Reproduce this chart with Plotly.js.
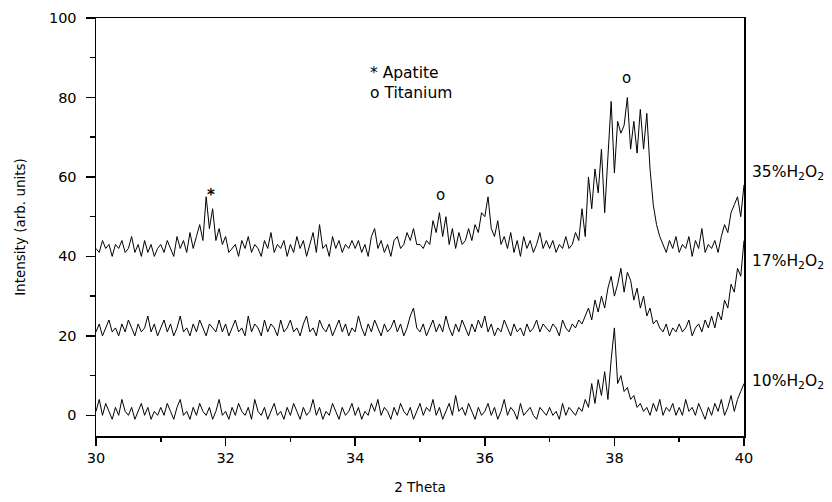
<!DOCTYPE html>
<html>
<head>
<meta charset="utf-8">
<script src="https://cdn.plot.ly/plotly-3.0.1.min.js"></script>
<style>html,body{margin:0;padding:0;background:#fff;}#chart{width:832px;height:502px;}</style>
</head>
<body>
<div id="chart"></div>
<script>
// 2-theta grid: start and step (degrees)
const thetaStart = 30;
const thetaStep = 0.05;

// 35% H2O2 pattern (offset baseline ~42)
const s35 = [
 42,41,44,42,43,40,43,42,44,41,42,45,41,43,40,44,41,43,40,42,
 43,41,44,42,40,45,42,44,41,46,42,45,48,44,55,47,52,44,47,43,
 45,41,42,43,40,44,42,45,41,43,42,40,44,42,46,41,43,42,44,40,
 43,41,45,42,44,40,43,46,41,48,42,43,40,45,42,44,41,43,42,44,
 42,44,41,43,40,45,47,42,44,41,43,40,44,45,42,43,46,44,47,43,
 43,42,44,43,49,46,51,45,50,43,47,42,46,43,44,47,44,48,46,51,
 50,55,47,45,49,43,45,42,46,41,44,40,45,42,44,41,43,46,42,44,
 42,44,41,43,42,45,42,43,46,44,52,45,60,52,62,56,67,51,65,79,
 61,74,71,73,80,67,74,66,77,67,76,62,53,48,45,43,41,44,42,45,
 41,43,42,45,40,44,42,47,41,43,42,44,41,45,48,46,51,53,55,50,
 58
];

// 17% H2O2 pattern (offset baseline ~22)
const s17 = [
 21,23,20,22,24,21,22,20,23,21,24,22,20,23,21,22,25,21,23,20,
 22,24,21,23,20,22,25,21,22,20,23,21,24,22,20,23,22,21,24,21,
 23,20,22,24,21,22,20,25,21,23,22,20,24,21,23,22,20,24,21,22,
 24,21,22,20,23,25,21,22,20,24,22,21,23,20,22,24,21,23,20,22,
 21,25,22,20,23,21,24,22,20,23,21,22,24,21,23,20,22,25,27,22,
 21,23,20,22,24,21,23,21,25,22,20,23,21,24,22,20,23,21,24,22,
 25,21,23,20,22,21,24,22,20,23,21,22,20,23,21,22,24,21,23,22,
 21,23,22,20,24,22,21,23,22,24,23,25,27,24,29,26,30,27,32,35,
 30,33,37,31,36,34,29,32,27,30,25,27,23,24,22,21,23,20,22,21,
 23,21,22,24,20,22,23,21,24,22,25,22,26,24,29,27,33,31,37,35,
 44
];

// 10% H2O2 pattern (baseline ~1)
const s10 = [
 1,4,0,3,1,-1,2,0,4,1,0,2,-1,1,3,0,2,-1,1,0,
 2,0,3,1,-1,2,4,0,1,-1,2,0,3,1,0,2,-1,1,4,0,
 1,-1,2,0,3,1,0,2,-1,4,1,0,2,-1,1,3,0,1,-1,2,
 0,3,1,-1,2,0,1,4,0,2,-1,1,0,3,1,-1,2,0,1,3,
 0,2,-1,1,0,3,1,4,0,2,1,-1,2,0,3,1,0,2,-1,1,
 3,0,2,1,4,0,2,-1,1,3,0,5,1,2,0,3,1,-1,2,0,
 1,3,0,2,-1,1,4,0,2,1,-1,3,0,1,2,0,-1,2,1,0,
 2,0,1,-1,3,0,2,1,0,2,1,4,2,8,3,9,5,11,4,14,
 22,8,10,6,7,4,5,2,3,1,2,0,3,1,4,0,2,1,3,0,
 2,0,4,1,2,0,3,1,-1,2,0,3,1,4,0,2,5,1,4,6,
 8
];

const seriesNames = ['35%H<sub>2</sub>O<sub>2</sub>', '17%H<sub>2</sub>O<sub>2</sub>', '10%H<sub>2</sub>O<sub>2</sub>'];
const seriesLabelY = [61, 38.6, 8.4];

// peak markers: symbol, 2theta, intensity position
const markerText = ['*', 'o', 'o', 'o'];
const markerX = [31.77, 35.31, 36.07, 38.18];
const markerY = [55.5, 55.4, 59.4, 85];

const FONT = 'DejaVu Sans, Liberation Sans, Arial, sans-serif';

const traces = [s35, s17, s10].map((ys, i) => ({
  type: 'scatter', mode: 'lines',
  x0: thetaStart, dx: thetaStep, y: ys,
  line: {color: '#000', width: 1},
  name: seriesNames[i], showlegend: false, hoverinfo: 'skip'
}));

const annotations = [];
markerText.forEach((t, i) => annotations.push({
  xref: 'x', yref: 'y', x: markerX[i], y: markerY[i],
  text: t === '*' ? '<b>*</b>' : t, showarrow: false,
  xanchor: 'center', yanchor: 'middle',
  font: {family: FONT, size: 15, color: '#000'}
}));
annotations.push({xref: 'x', yref: 'y', x: 34.2, y: 86.1, text: '* Apatite', showarrow: false,
  xanchor: 'left', yanchor: 'middle', font: {family: FONT, size: 15.5, color: '#000'}});
annotations.push({xref: 'x', yref: 'y', x: 34.2, y: 81.0, text: 'o Titanium', showarrow: false,
  xanchor: 'left', yanchor: 'middle', font: {family: FONT, size: 15.5, color: '#000'}});
seriesNames.forEach((n, i) => annotations.push({
  xref: 'paper', yref: 'y', x: 1, xshift: 6, y: seriesLabelY[i], text: n, showarrow: false,
  xanchor: 'left', yanchor: 'middle', font: {family: FONT, size: 15.5, color: '#000'}
}));

const layout = {
  width: 832, height: 502,
  margin: {l: 96, r: 88, t: 18, b: 66, pad: 0},
  paper_bgcolor: '#fff', plot_bgcolor: '#fff',
  font: {family: FONT, size: 14, color: '#000'},
  showlegend: false,
  xaxis: {
    range: [30, 40], tick0: 30, dtick: 2,
    showgrid: false, zeroline: false,
    showline: true, mirror: true, linecolor: '#000', linewidth: 1.5,
    ticks: 'outside', ticklen: 8, tickwidth: 1.5, tickcolor: '#000',
    minor: {dtick: 1, ticks: 'outside', ticklen: 4, tickwidth: 1.5, tickcolor: '#000'},
    tickfont: {family: FONT, size: 14.5, color: '#000'},
    title: {text: '2 Theta', font: {family: FONT, size: 13.5, color: '#000'}, standoff: 17}
  },
  yaxis: {
    range: [-5.2, 100], tick0: 0, dtick: 20,
    showgrid: false, zeroline: false,
    showline: true, mirror: true, linecolor: '#000', linewidth: 1.5,
    ticks: 'outside', ticklen: 9, tickwidth: 1.5, tickcolor: '#000',
    ticklabelstandoff: 6,
    minor: {dtick: 10, ticks: 'outside', ticklen: 5, tickwidth: 1.5, tickcolor: '#000'},
    tickfont: {family: FONT, size: 14.5, color: '#000'},
    title: {text: 'Intensity (arb. units)', font: {family: FONT, size: 13.5, color: '#000'}, standoff: 20}
  },
  annotations: annotations
};

Plotly.newPlot('chart', traces, layout, {staticPlot: true, displayModeBar: false});
</script>
</body>
</html>
